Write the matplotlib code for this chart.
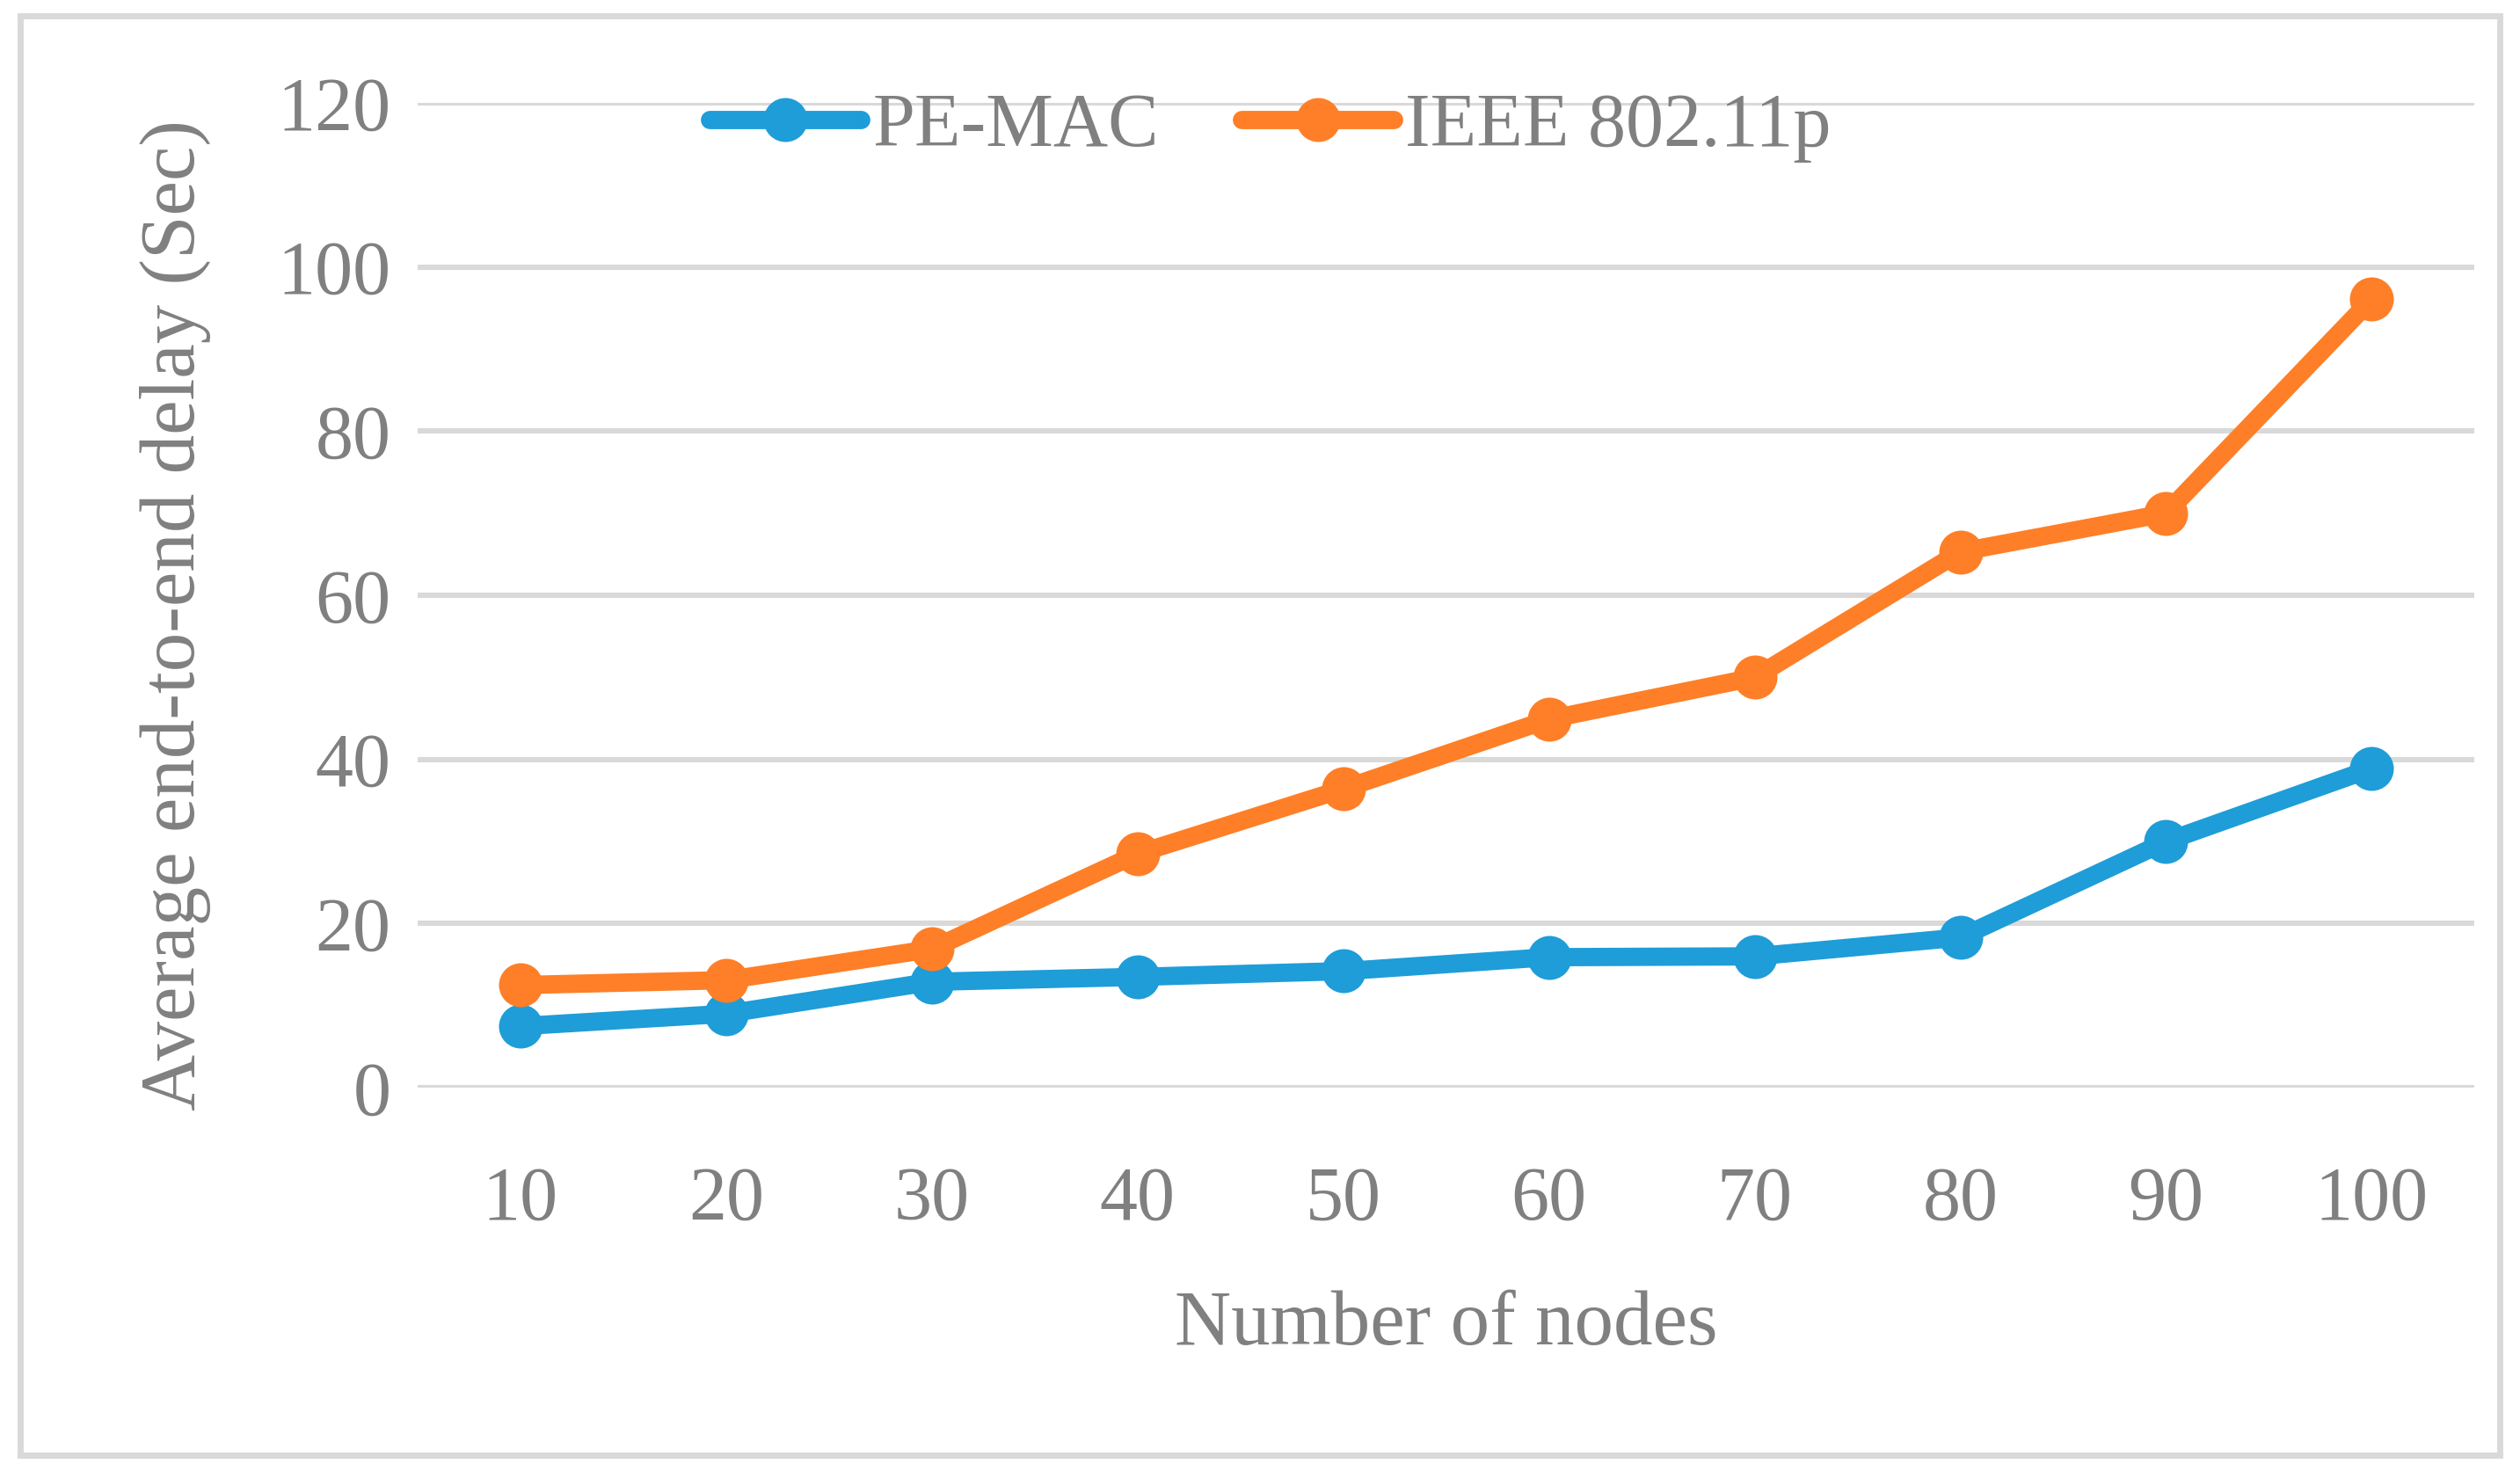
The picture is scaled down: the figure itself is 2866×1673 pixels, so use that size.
import matplotlib.pyplot as plt
from matplotlib.patches import Rectangle

# data
nodes = ["10", "20", "30", "40", "50", "60", "70", "80", "90", "100"]
pe_mac = [7.5, 9.0, 12.9, 13.5, 14.2, 15.9, 16.0, 18.3, 30.0, 38.9]
ieee_80211p = [12.5, 13.1, 16.9, 28.5, 36.4, 44.9, 50.0, 65.3, 70.0, 96.1]
y_ticks = [0, 20, 40, 60, 80, 100, 120]

blue = "#1E9DD8"
orange = "#FE7F27"
grey = "#808080"
grid_grey = "#D9D9D9"

plt.rcParams["font.family"] = ["Liberation Serif", "DejaVu Serif"]

fig = plt.figure(figsize=(14.33, 8.365), dpi=200)
ax = fig.add_axes([0.1657, 0.2606, 0.982 - 0.1657, 0.930 - 0.2606])

# chart border
fig.patches.append(Rectangle((0.008, 0.011), 0.984, 0.978, transform=fig.transFigure,
                             fill=False, edgecolor=grid_grey, linewidth=2.5))

ax.plot(nodes, pe_mac, color=blue, linewidth=7.5, marker="o", markersize=17,
        label="PE-MAC", solid_capstyle="round", zorder=3)
ax.plot(nodes, ieee_80211p, color=orange, linewidth=7.5, marker="o", markersize=17,
        label="IEEE 802.11p", solid_capstyle="round", zorder=3)

ax.set_xlim(-0.5, len(nodes) - 0.5)
ax.set_ylim(0, 120)
ax.set_yticks(y_ticks)
ax.yaxis.grid(True, color=grid_grey, linewidth=2.2)
ax.set_axisbelow(True)
for s in ax.spines.values():
    s.set_visible(False)
ax.tick_params(axis="both", length=0, labelsize=31, colors=grey)
ax.tick_params(axis="x", pad=32)
ax.tick_params(axis="y", pad=11)

ax.set_xlabel("Number of nodes", fontsize=32, color=grey, labelpad=22)
ax.set_ylabel("Average end-to-end delay (Sec)", fontsize=32, color=grey, labelpad=27)
ax.yaxis.label.set_y(0.48)

fig.legend(loc="center", bbox_to_anchor=(0.504, 0.913), ncol=2, frameon=False,
           fontsize=31, labelcolor=grey, handlelength=2.0, handletextpad=0.15,
           columnspacing=1.1, numpoints=1)

fig.savefig("out.png", dpi=200)
